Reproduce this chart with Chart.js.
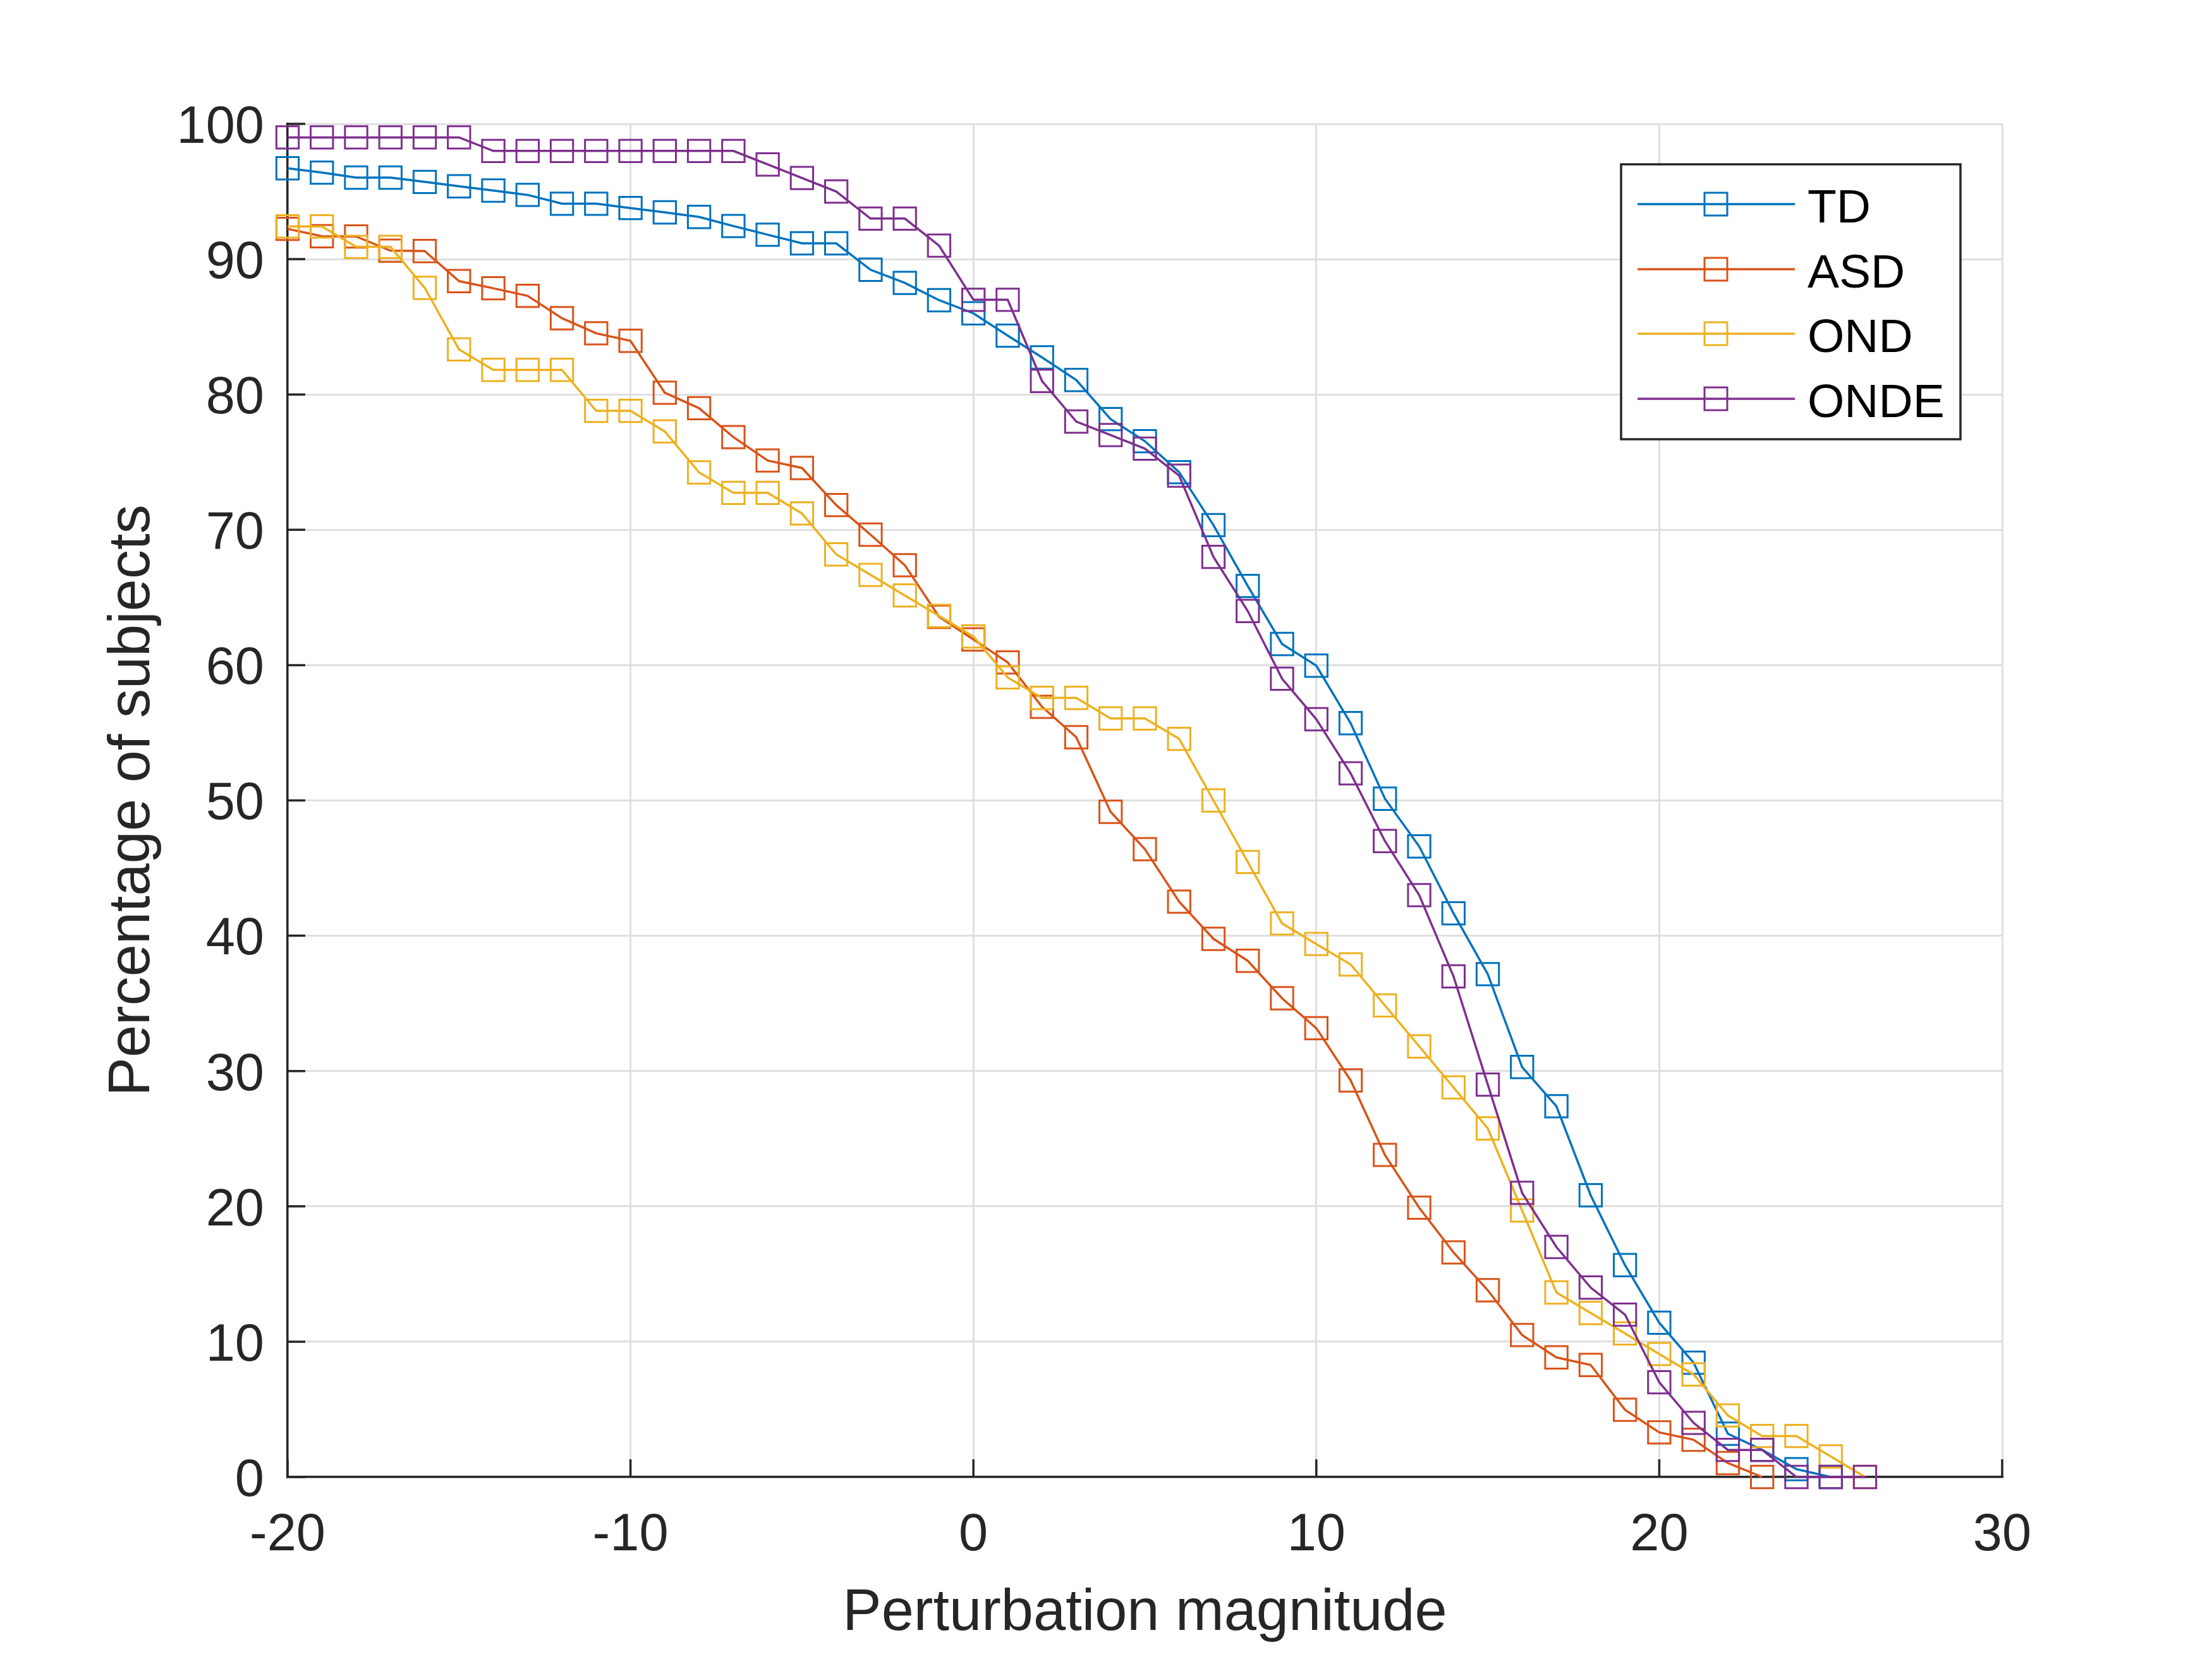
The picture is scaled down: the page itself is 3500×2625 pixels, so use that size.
<!DOCTYPE html>
<html>
<head>
<meta charset="utf-8">
<script src="https://cdn.jsdelivr.net/npm/chart.js@4.4.1/dist/chart.umd.min.js"></script>
<style>
  html, body { margin: 0; padding: 0; background: #ffffff; }
  #wrap { width: 3500px; height: 2625px; }
</style>
</head>
<body>
<div id="wrap"><canvas id="c" width="3500" height="2625"></canvas></div>
<script>
// ---- data ----
const xStart = -20;
const seriesNames = ['TD', 'ASD', 'OND', 'ONDE'];
const tdValues = [96.72, 96.40, 96.03, 96.03, 95.71, 95.39, 95.07, 94.75, 94.10, 94.10,
  93.78, 93.46, 93.12, 92.45, 91.81, 91.17, 91.17, 89.22, 88.25, 86.97,
  86.00, 84.35, 82.74, 81.07, 78.18, 76.55, 74.26, 70.35, 65.85, 61.56,
  59.96, 55.71, 50.13, 46.60, 41.66, 37.16, 30.30, 27.40, 20.82, 15.66,
  11.40, 8.45, 3.20, 2.00, 0.58, 0];
const asdValues = [92.24, 91.70, 91.68, 90.63, 90.60, 88.38, 87.85, 87.29, 85.64, 84.52,
  83.97, 80.13, 78.99, 76.85, 75.12, 74.57, 71.83, 69.64, 67.38, 63.57,
  61.90, 60.20, 56.92, 54.67, 49.16, 46.40, 42.52, 39.77, 38.15, 35.38,
  33.17, 29.31, 23.80, 19.90, 16.60, 13.80, 10.49, 8.84, 8.28, 4.97,
  3.30, 2.75, 1.03, 0];
const ondValues = [92.42, 92.42, 90.91, 90.91, 87.88, 83.33, 81.82, 81.82, 81.82, 78.79,
  78.79, 77.27, 74.24, 72.73, 72.73, 71.21, 68.18, 66.67, 65.15, 63.64,
  62.12, 59.09, 57.58, 57.58, 56.06, 56.06, 54.55, 50.00, 45.45, 40.91,
  39.39, 37.88, 34.85, 31.82, 28.79, 25.76, 19.70, 13.64, 12.12, 10.61,
  9.09, 7.58, 4.55, 3.03, 3.03, 1.52, 0];
const ondeValues = [99, 99, 99, 99, 99, 99, 98, 98, 98, 98,
  98, 98, 98, 98, 97, 96, 95, 93, 93, 91,
  87, 87, 81, 78, 77, 76, 74, 68, 64, 59,
  56, 52, 47, 43, 37, 29, 21, 17, 14, 12,
  7, 4, 2, 2, 0, 0, 0];
const xTicks = [-20, -10, 0, 10, 20, 30];
const yTicks = [0, 10, 20, 30, 40, 50, 60, 70, 80, 90, 100];
const xTitle = 'Perturbation magnitude';
const yTitle = 'Percentage of subjects';

// ---- styles ----
const colors = ['#0072BD', '#D95319', '#EDB120', '#7E2F8E'];
const FONT = "'Liberation Sans', Arial, Helvetica, sans-serif";
const AXIS_COLOR = '#262626';

function toPoints(vals) {
  return vals.map((v, i) => ({ x: xStart + i, y: v }));
}
const allValues = [tdValues, asdValues, ondValues, ondeValues];

const datasets = allValues.map((vals, k) => ({
  label: seriesNames[k],
  data: toPoints(vals),
  borderColor: colors[k],
  backgroundColor: colors[k],
  borderWidth: 3.5,
  pointStyle: 'rect',
  pointRadius: 25,
  pointBorderWidth: 3,
  pointBorderColor: colors[k],
  pointBackgroundColor: 'rgba(0,0,0,0)',
  pointHoverRadius: 25,
  tension: 0,
  fill: false,
  clip: false,
  order: 4 - k
}));

// inward tick marks (MATLAB style)
const innerTicks = {
  id: 'innerTicks',
  afterDatasetsDraw(chart) {
    const { ctx, chartArea, scales } = chart;
    ctx.save();
    ctx.strokeStyle = AXIS_COLOR;
    ctx.lineWidth = 3.5;
    ctx.beginPath();
    yTicks.forEach(v => {
      const py = scales.y.getPixelForValue(v);
      ctx.moveTo(chartArea.left, py);
      ctx.lineTo(chartArea.left + 28, py);
    });
    xTicks.forEach(v => {
      const px = scales.x.getPixelForValue(v);
      ctx.moveTo(px, chartArea.bottom);
      ctx.lineTo(px, chartArea.bottom - 28);
    });
    ctx.stroke();
    ctx.restore();
  }
};

// legend box (top right, inside axes)
const boxLegend = {
  id: 'boxLegend',
  afterDraw(chart) {
    const { ctx } = chart;
    const x0 = 2565, y0 = 260, x1 = 3102, y1 = 695;
    ctx.save();
    ctx.fillStyle = '#ffffff';
    ctx.fillRect(x0, y0, x1 - x0, y1 - y0);
    ctx.strokeStyle = AXIS_COLOR;
    ctx.lineWidth = 3.5;
    ctx.strokeRect(x0, y0, x1 - x0, y1 - y0);
    const rows = [323, 426, 528, 631];
    chart.data.datasets.forEach((ds, i) => {
      const y = rows[i];
      ctx.strokeStyle = ds.borderColor;
      ctx.lineWidth = 3.5;
      ctx.beginPath();
      ctx.moveTo(2591, y);
      ctx.lineTo(2840, y);
      ctx.stroke();
      ctx.lineWidth = 3;
      ctx.strokeRect(2715 - 18, y - 18, 36, 36);
      ctx.fillStyle = '#000000';
      ctx.font = '75px ' + FONT;
      ctx.textAlign = 'left';
      ctx.textBaseline = 'middle';
      ctx.fillText(ds.label, 2860, y + 8);
    });
    ctx.restore();
  }
};

new Chart(document.getElementById('c'), {
  type: 'line',
  data: { datasets },
  options: {
    responsive: false,
    maintainAspectRatio: false,
    devicePixelRatio: 1,
    animation: false,
    events: [],
    layout: { padding: { top: 196, right: 332, left: 0, bottom: 0 } },
    plugins: {
      legend: { display: false },
      tooltip: { enabled: false }
    },
    scales: {
      x: {
        type: 'linear',
        min: -20,
        max: 30,
        afterBuildTicks(scale) { scale.ticks = xTicks.map(v => ({ value: v })); },
        afterFit(scale) { scale.height = 288; },
        ticks: {
          color: AXIS_COLOR,
          font: { family: FONT, size: 83 },
          padding: 43,
          maxRotation: 0,
          autoSkip: false
        },
        grid: { color: '#dfdfdf', lineWidth: 3, drawTicks: false, tickLength: 0 },
        border: { display: true, color: AXIS_COLOR, width: 3.5 },
        title: {
          display: true,
          text: xTitle,
          color: AXIS_COLOR,
          font: { family: FONT, size: 92 },
          padding: { top: 0, bottom: 16 }
        }
      },
      y: {
        type: 'linear',
        min: 0,
        max: 100,
        afterBuildTicks(scale) { scale.ticks = yTicks.map(v => ({ value: v })); },
        afterFit(scale) { scale.width = 455; },
        ticks: {
          color: AXIS_COLOR,
          font: { family: FONT, size: 83 },
          padding: 37,
          labelOffset: 7,
          autoSkip: false
        },
        grid: { color: '#dfdfdf', lineWidth: 3, drawTicks: false, tickLength: 0 },
        border: { display: true, color: AXIS_COLOR, width: 3.5 },
        title: {
          display: true,
          text: yTitle,
          color: AXIS_COLOR,
          font: { family: FONT, size: 92 },
          padding: { top: 155, bottom: 0 }
        }
      }
    }
  },
  plugins: [innerTicks, boxLegend]
});
</script>
</body>
</html>
